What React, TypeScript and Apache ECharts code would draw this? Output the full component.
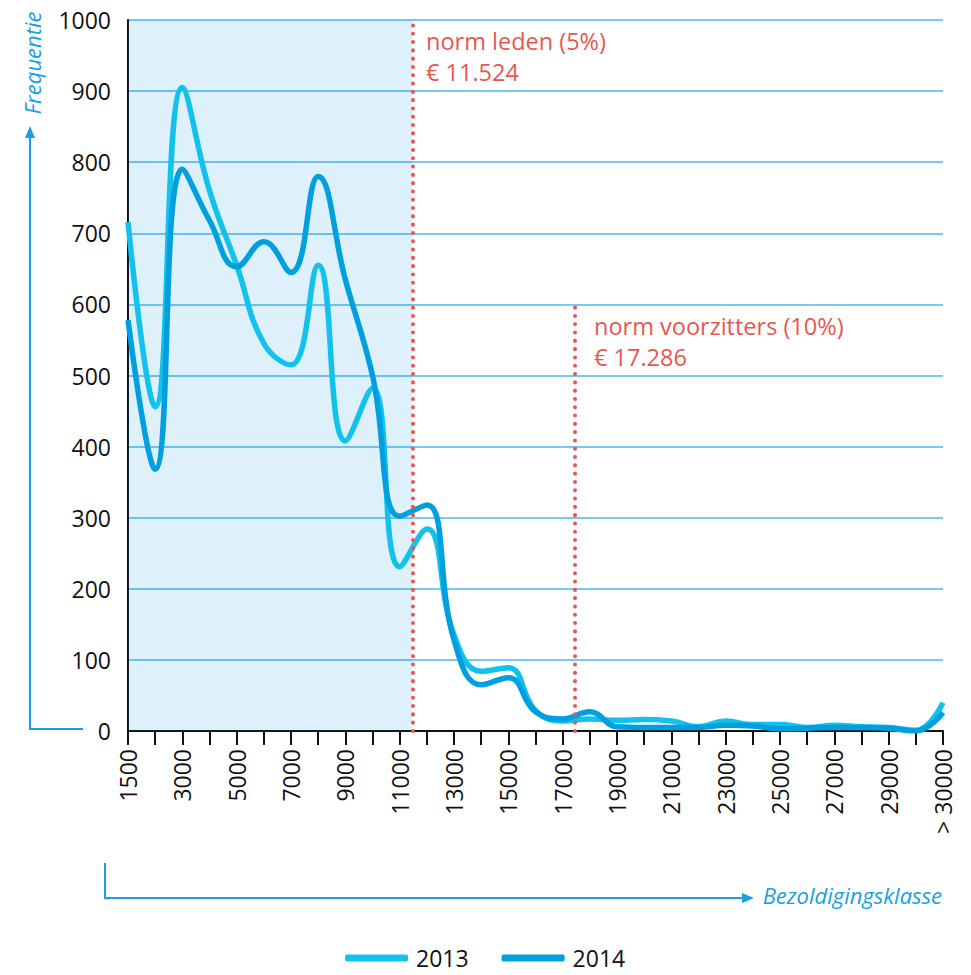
import React, { useEffect, useRef } from "react";
import * as echarts from "echarts";

const categories = [
  "1500", "2000", "3000", "4000", "5000", "6000", "7000", "8000", "9000", "10000",
  "11000", "12000", "13000", "14000", "15000", "16000", "17000", "18000", "19000", "20000",
  "21000", "22000", "23000", "24000", "25000", "26000", "27000", "28000", "29000", "30000",
  "> 30000",
];
const values2013 = [
  716, 456, 905, 760, 655, 545, 515, 655, 408, 482,
  231, 284, 135, 84, 89, 29, 14, 17, 15, 16,
  14, 6, 14, 9, 9, 5, 8, 6, 5, 1,
  40,
];
const values2014 = [
  578, 368, 790, 718, 653, 688, 645, 780, 635, 500,
  302, 318, 128, 65, 75, 27, 17, 27, 6, 5,
  5, 5, 8, 7, 3, 4, 5, 5, 4, 0,
  26,
];
const yTicks = [0, 100, 200, 300, 400, 500, 600, 700, 800, 900, 1000];
const normLeden = { label: "norm leden (5%)", amount: "€ 11.524" };
const normVoorzitters = { label: "norm voorzitters (10%)", amount: "€ 17.286" };

const BLUE = "#1a9fe0";
const RED = "#e8574f";
const FONT = "'Open Sans', 'Noto Sans', sans-serif";

export default function App() {
  const ref = useRef<HTMLDivElement>(null);
  useEffect(() => {
    if (!ref.current) return;
    const chart = echarts.init(ref.current, undefined, { renderer: "svg" });
    const toPairs = (arr: number[]) => arr.map((v, i) => [i, v]);
    const lineLeden = 10.47;
    const lineVoorz = 16.45;
    chart.setOption({
      animation: false,
      textStyle: { fontFamily: FONT },
      grid: { left: 128, right: 28, top: 20, bottom: 244, containLabel: false },
      xAxis: {
        type: "value",
        min: 0,
        max: categories.length - 1,
        interval: 1,
        axisLine: { show: true, lineStyle: { color: "#111", width: 2 } },
        axisTick: { show: true, length: 14, lineStyle: { color: "#111", width: 2 } },
        splitLine: { show: false },
        axisLabel: {
          rotate: 90,
          margin: 18,
          fontSize: 23,
          color: "#111",
          fontFamily: FONT,
          showMinLabel: true,
          showMaxLabel: true,
          hideOverlap: false,
          formatter: (v: number) => {
            const i = Math.round(v);
            return i % 2 === 0 ? categories[i] : "";
          },
        },
      },
      yAxis: {
        type: "value",
        min: yTicks[0],
        max: yTicks[yTicks.length - 1],
        interval: 100,
        axisLine: { show: true, lineStyle: { color: "#111", width: 2 } },
        axisTick: { show: false },
        axisLabel: {
          fontSize: 23,
          color: "#111",
          margin: 17,
          fontFamily: FONT,
          formatter: (v: number) => String(v),
        },
        splitLine: { show: true, lineStyle: { color: "#4db6e8", width: 1.5 } },
      },
      legend: {
        left: 340,
        top: 941,
        padding: 5,
        icon: "roundRect",
        itemWidth: 63,
        itemHeight: 7,
        itemGap: 33,
        textStyle: { fontSize: 23, lineHeight: 24, color: "#111", fontFamily: FONT, padding: [0, 0, 0, 3] },
        data: ["2013", "2014"],
      },
      series: [
        {
          name: "2013",
          type: "line",
          data: toPairs(values2013),
          smooth: 0.45,
          showSymbol: false,
          color: "#12c2ec",
          lineStyle: { width: 5.5, color: "#12c2ec" },
          z: 3,
          markArea: {
            silent: true,
            itemStyle: { color: "rgba(0,150,214,0.13)" },
            data: [[{ xAxis: 0 }, { xAxis: lineLeden }]],
          },
          markLine: {
            silent: true,
            symbol: "none",
            label: { show: false },
            lineStyle: { color: RED, width: 4, type: [0.1, 8.2], cap: "round" },
            data: [
              [{ coord: [lineLeden, 0] }, { coord: [lineLeden, 1000] }],
              [{ coord: [lineVoorz, 0] }, { coord: [lineVoorz, 605] }],
            ],
          },
        },
        {
          name: "2014",
          type: "line",
          data: toPairs(values2014),
          smooth: 0.45,
          showSymbol: false,
          color: "#009fe0",
          lineStyle: { width: 5.5, color: "#009fe0" },
          z: 4,
        },
      ],
      graphic: [
        {
          type: "text",
          x: 32,
          y: 63,
          rotation: Math.PI / 2,
          style: {
            text: "Frequentie",
            fill: BLUE,
            font: `italic 22px ${FONT}`,
            align: "center",
            verticalAlign: "middle",
          },
        },
        {
          type: "polyline",
          shape: { points: [[30, 136], [30, 729], [83, 729]] },
          style: { stroke: BLUE, lineWidth: 2, fill: null },
        },
        {
          type: "polygon",
          shape: { points: [[25, 138], [35, 138], [30, 126]] },
          style: { fill: BLUE },
        },
        {
          type: "polyline",
          shape: { points: [[105, 863], [105, 898], [744, 898]] },
          style: { stroke: BLUE, lineWidth: 2, fill: null },
        },
        {
          type: "polygon",
          shape: { points: [[742, 893], [742, 903], [754, 898]] },
          style: { fill: BLUE },
        },
        {
          type: "text",
          x: 942,
          y: 895,
          style: {
            text: "Bezoldigingsklasse",
            fill: BLUE,
            font: `italic 22px ${FONT}`,
            align: "right",
            verticalAlign: "middle",
          },
        },
        {
          type: "text",
          x: 426,
          y: 25,
          style: {
            text: normLeden.label + "\n" + normLeden.amount,
            fill: RED,
            font: `23.5px ${FONT}`,
            lineHeight: 31,
            align: "left",
            verticalAlign: "top",
          },
        },
        {
          type: "text",
          x: 594,
          y: 310,
          style: {
            text: normVoorzitters.label + "\n" + normVoorzitters.amount,
            fill: RED,
            font: `23.5px ${FONT}`,
            lineHeight: 31,
            align: "left",
            verticalAlign: "top",
          },
        },
      ],
    });
    return () => chart.dispose();
  }, []);
  return <div ref={ref} style={{ width: 971, height: 975, position: "absolute", left: 0, top: 0 }} />;
}
